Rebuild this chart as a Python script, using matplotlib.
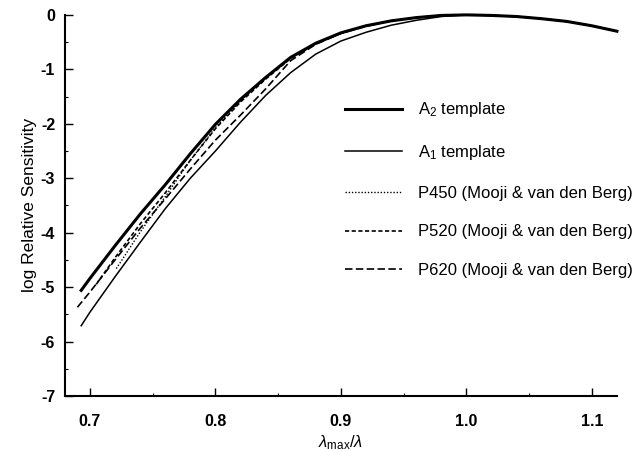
import matplotlib
matplotlib.use("Agg")
import matplotlib.pyplot as plt
from matplotlib.ticker import MultipleLocator

plt.rcParams['font.family'] = ['Liberation Sans', 'DejaVu Sans']
plt.rcParams['mathtext.fontset'] = 'custom'
plt.rcParams['mathtext.rm'] = 'Liberation Sans'
plt.rcParams['mathtext.it'] = 'Liberation Sans:italic'

# lambda_max / lambda positions and log relative sensitivity of each curve
x_a2 = [0.693, 0.70, 0.72, 0.74, 0.76, 0.78, 0.80, 0.82, 0.84, 0.86, 0.88, 0.90,
        0.92, 0.94, 0.96, 0.98, 1.00, 1.02, 1.04, 1.06, 1.08, 1.10, 1.12]
y_a2 = [-5.06, -4.84, -4.24, -3.66, -3.12, -2.55, -2.01, -1.55, -1.15, -0.78, -0.52, -0.33,
        -0.20, -0.11, -0.05, -0.01, 0.00, -0.01, -0.03, -0.07, -0.12, -0.20, -0.30]

x_a1 = [0.693, 0.70, 0.72, 0.74, 0.76, 0.78, 0.80, 0.82, 0.84, 0.86, 0.88, 0.90,
        0.92, 0.94, 0.96, 0.98, 1.00, 1.02, 1.04, 1.06, 1.08, 1.10, 1.12]
y_a1 = [-5.71, -5.46, -4.81, -4.18, -3.56, -3.00, -2.50, -1.97, -1.48, -1.06, -0.72, -0.48,
        -0.32, -0.19, -0.10, -0.03, 0.00, -0.01, -0.03, -0.07, -0.12, -0.20, -0.30]

x_p450 = [0.721, 0.74, 0.76, 0.78, 0.80, 0.82, 0.84, 0.86, 0.88, 0.90,
          0.92, 0.94, 0.96, 0.98, 1.00, 1.02, 1.04, 1.06, 1.08, 1.10, 1.12]
y_p450 = [-4.66, -3.99, -3.34, -2.67, -2.07, -1.58, -1.16, -0.79, -0.53, -0.34,
          -0.20, -0.11, -0.05, -0.01, 0.00, -0.01, -0.03, -0.07, -0.12, -0.20, -0.30]

x_p520 = [0.705, 0.72, 0.74, 0.76, 0.78, 0.80, 0.82, 0.84, 0.86, 0.88, 0.90,
          0.92, 0.94, 0.96, 0.98, 1.00, 1.02, 1.04, 1.06, 1.08, 1.10, 1.12]
y_p520 = [-4.95, -4.46, -3.84, -3.27, -2.67, -2.09, -1.60, -1.18, -0.80, -0.53, -0.34,
          -0.20, -0.11, -0.05, -0.01, 0.00, -0.01, -0.03, -0.07, -0.12, -0.20, -0.30]

x_p620 = [0.690, 0.70, 0.72, 0.74, 0.76, 0.78, 0.80, 0.82, 0.84, 0.86, 0.88, 0.90,
          0.92, 0.94, 0.96, 0.98, 1.00, 1.02, 1.04, 1.06, 1.08, 1.10, 1.12]
y_p620 = [-5.37, -5.09, -4.50, -3.92, -3.38, -2.83, -2.30, -1.84, -1.36, -0.84, -0.54, -0.34,
          -0.21, -0.11, -0.05, -0.01, 0.00, -0.01, -0.03, -0.07, -0.12, -0.20, -0.30]

labels = [r'A$_2$ template', r'A$_1$ template',
          'P450 (Mooji & van den Berg)', 'P520 (Mooji & van den Berg)',
          'P620 (Mooji & van den Berg)']

xticks = [0.7, 0.8, 0.9, 1.0, 1.1]
yticks = [-7, -6, -5, -4, -3, -2, -1, 0]

fig = plt.figure(figsize=(6.36, 4.51), dpi=100)
ax = fig.add_axes([0.102, 0.122, 0.868, 0.845])

ax.plot(x_a2, y_a2, color='black', lw=2.2, label=labels[0], clip_on=False)
ax.plot(x_a1, y_a1, color='black', lw=1.1, label=labels[1], clip_on=False)
ax.plot(x_p450, y_p450, color='black', lw=1.0, ls=(0, (1, 1.3)), label=labels[2], clip_on=False)
ax.plot(x_p520, y_p520, color='black', lw=1.2, ls=(0, (2.5, 1.5)), label=labels[3], clip_on=False)
ax.plot(x_p620, y_p620, color='black', lw=1.2, ls=(0, (4.5, 2)), label=labels[4], clip_on=False)

ax.set_xlim(0.68, 1.12)
ax.set_ylim(-7, 0)
ax.set_xticks(xticks)
ax.set_xticklabels(['%.1f' % v for v in xticks], fontweight='bold')
ax.set_yticks(yticks)
ax.set_yticklabels([str(v) for v in yticks], fontweight='bold')
ax.xaxis.set_minor_locator(MultipleLocator(0.05))
ax.yaxis.set_minor_locator(MultipleLocator(0.5))

for side in ['top', 'right']:
    ax.spines[side].set_visible(False)
for side in ['left', 'bottom']:
    ax.spines[side].set_linewidth(1.5)

ax.tick_params(which='major', direction='in', length=5.5, width=1.0, labelsize=11.5)
ax.tick_params(which='minor', direction='in', length=2.5, width=0.8)
ax.tick_params(axis='x', which='major', pad=13)
ax.tick_params(axis='y', which='major', pad=7)

ax.set_ylabel('log Relative Sensitivity', fontsize=12.5, labelpad=3)
ax.set_xlabel(r'$\lambda_{\rm max}/\lambda$', fontsize=12, labelpad=3)

ax.legend(loc='upper left', bbox_to_anchor=(0.48, 0.815), frameon=False,
          fontsize=12, handlelength=3.4, handletextpad=0.96, labelspacing=1.42)

fig.savefig('out.png', dpi=100)
